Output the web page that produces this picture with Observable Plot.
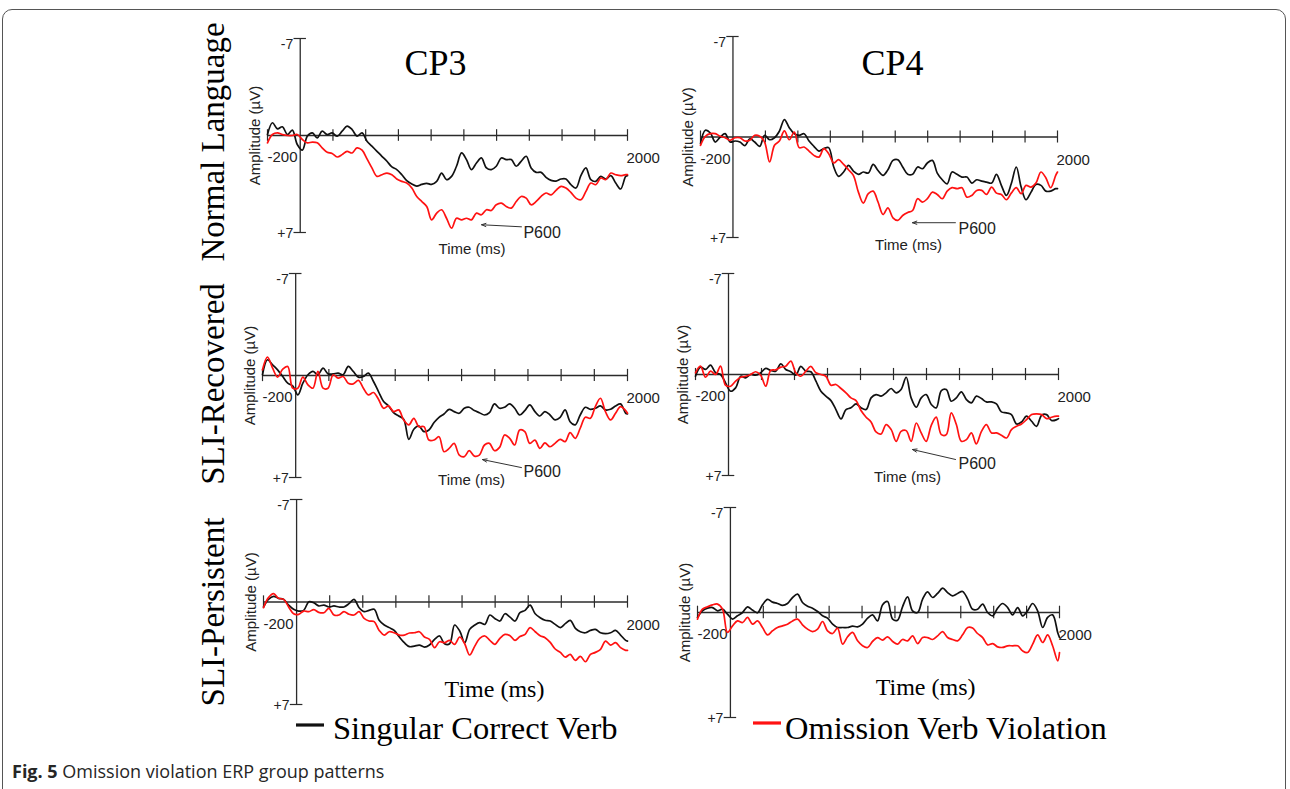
<!DOCTYPE html>
<html>
<head>
<meta charset="utf-8">
<script src="https://cdn.jsdelivr.net/npm/d3@7"></script>
<script src="https://cdn.jsdelivr.net/npm/@observablehq/plot@0.6"></script>
<style>
  html, body { margin: 0; padding: 0; background: #fff; }
  #root { position: relative; width: 1290px; height: 789px; overflow: hidden; background: #fff; }
  .frame { position: absolute; left: 2px; top: 9px; width: 1284px; height: 840px; border: 1.5px solid #555; border-radius: 10px; box-sizing: border-box; }
</style>
</head>
<body>
<div id="root"><div class="frame"></div></div>
<script>
// ---------------- data ----------------
const timeMs = [-200, -170, -139, -109, -78, -48, -18, 13, 43, 74,
  104, 134, 165, 195, 226, 256, 286, 317, 347, 378,
  408, 438, 469, 499, 530, 560, 590, 621, 651, 682,
  712, 742, 773, 803, 834, 864, 894, 925, 955, 986,
  1016, 1046, 1077, 1107, 1138, 1168, 1198, 1229, 1259, 1290,
  1320, 1350, 1381, 1411, 1442, 1472, 1502, 1533, 1563, 1594,
  1624, 1654, 1685, 1715, 1746, 1776, 1806, 1837, 1867, 1898,
  1928, 1958, 1989, 2000];

// Normal Language, CP3 (µV, positive plotted downward)
const nlCp3Correct = [-0.07, -0.92, -0.48, -0.63, -0.07, -0.39, 0.65, 1.06, 0.05, -0.19,
  0.17, -0.31, -0.07, -0.19, 0.05, -0.31, -0.68, -0.43, 0.05, -0.19,
  0.41, 0.77, 1.14, 1.5, 1.86, 2.27, 2.46, 2.83, 3.26, 3.5,
  3.65, 3.53, 3.45, 3.53, 3.31, 2.71, 3.19, 2.95, 2.22, 1.26,
  1.74, 2.46, 1.98, 1.62, 2.34, 2.46, 2.22, 1.62, 1.74, 1.74,
  2.22, 1.86, 1.5, 2.34, 2.66, 2.66, 3.02, 3.24, 3.29, 3.14,
  3.14, 3.55, 3.79, 2.9, 2.34, 3.19, 3.31, 2.95, 3.14, 2.9,
  3.43, 3.86, 2.95, 2.9];
const nlCp3Violation = [0.53, -0.07, -0.19, -0.07, 0, 0, -0.07, 0.29, 0.53, 0.48,
  0.53, 0.89, 1.21, 1.3, 1.55, 1.38, 1.14, 1.26, 0.89, 1.06,
  1.69, 2.34, 2.95, 2.83, 2.71, 2.83, 3.14, 3.31, 3.43, 3.79,
  4.4, 4.76, 5.12, 6.09, 5.6, 5.36, 5.97, 6.69, 5.97, 6.09,
  5.97, 6.09, 5.6, 5.72, 5.36, 5.41, 5.0, 4.88, 5.12, 5.24,
  4.76, 4.4, 4.52, 5.0, 4.76, 4.4, 4.15, 4.28, 3.96, 3.67,
  3.79, 4.11, 4.52, 4.64, 4.03, 3.43, 3.55, 3.07, 3.19, 2.71,
  2.83, 2.9, 2.83, 2.83];

// Normal Language, CP4
const nlCp4Correct = [0.47, -0.47, -0.28, 0.35, 0, -0.23, 0.35, 0.28, 0.35, 0.6,
  0.12, 0.35, 0.65, -0.12, 0.19, 0.05, -0.4, -1.21, -0.65, -0.23,
  -0.12, -0.23, 0.28, 0.65, 0.98, 0.81, 0.74, 2.09, 2.74, 2.44,
  1.98, 2.37, 2.6, 2.44, 2.51, 1.91, 2.33, 2.67, 2.28, 1.63,
  1.58, 2.09, 2.6, 2.6, 2.09, 2.21, 1.81, 1.63, 2.51, 2.98,
  3.26, 2.44, 2.6, 2.79, 2.79, 3.21, 2.98, 3.07, 3.14, 3.21,
  2.6, 3.37, 4.07, 3.26, 2.09, 3.49, 4.37, 3.84, 3.3, 3.37,
  3.77, 3.77, 3.6, 3.6];
const nlCp4Violation = [0.58, -0.05, -0.23, -0.23, -0.05, 0.05, 0.23, 0.05, 0.05, 0.28,
  0.23, -0.12, -0.05, 0.35, 1.74, 0.58, 0.28, -0.42, 0.19, -0.35,
  0.74, 0.7, 0.98, 1.28, 1.4, 0.81, 1.16, 1.81, 1.58, 1.91,
  2.28, 2.67, 3.84, 4.6, 3.95, 3.77, 4.53, 5.4, 4.93, 5.63,
  5.81, 5.47, 5.26, 5.12, 4.3, 4.53, 4.3, 3.84, 4.0, 4.3,
  3.77, 3.53, 3.6, 3.53, 4.19, 4.07, 3.72, 3.72, 4.0, 3.49,
  3.91, 4.0, 4.37, 3.91, 3.53, 3.95, 3.37, 3.49, 3.21, 2.44,
  2.84, 3.53, 2.67, 2.44];

// SLI-Recovered, CP3
const srCp3Correct = [-0.05, -1.08, -0.73, -0.39, 0.07, 0.53, 0.71, 1.33, 0.53, -0.05,
  -0.28, -0.05, -0.5, -0.11, -0.11, -0.16, -0.05, -0.62, -0.28, 0.11,
  0.07, -0.16, 0.41, 1.1, 1.79, 2.09, 2.55, 2.78, 3.0, 4.38,
  3.69, 3.46, 3.85, 3.74, 3.23, 2.87, 2.64, 2.32, 2.48, 2.59,
  2.25, 2.18, 2.41, 2.55, 2.71, 2.55, 1.95, 2.25, 2.18, 1.95,
  2.25, 2.71, 2.41, 2.02, 2.48, 2.78, 2.48, 2.71, 3.05, 2.87,
  2.36, 3.17, 3.39, 2.71, 2.18, 2.32, 2.25, 2.09, 2.36, 2.32,
  2.09, 1.95, 2.59, 2.64];
const srCp3Violation = [-0.39, -1.26, -0.5, 0.11, -0.44, -0.62, 0.87, 0.87, 0.11, 0.64,
  0.87, -0.28, 0.87, 0.87, -0.05, 0.18, 0.07, 0.53, 0.57, 0.34,
  0.87, 1.33, 1.17, 1.63, 2.25, 2.09, 2.48, 2.36, 3.05, 3.39,
  2.94, 3.51, 3.51, 4.43, 4.43, 4.2, 5.23, 5.0, 4.66, 5.46,
  5.57, 5.16, 5.53, 5.46, 4.77, 4.66, 5.16, 4.93, 4.08, 4.31,
  4.77, 3.74, 3.85, 4.66, 4.43, 5.0, 4.63, 4.89, 4.66, 4.38,
  4.54, 3.92, 4.31, 3.62, 2.87, 2.94, 2.13, 1.56, 2.48, 3.05,
  2.59, 2.13, 2.41, 2.59];

// SLI-Recovered, CP4
const srCp4Correct = [0.12, -0.51, -0.35, -0.65, -0.12, 0, 0.58, 1.16, 0.93, 0.12,
  0.23, 0, 0.05, -0.12, -0.42, -0.28, -0.23, -0.74, -0.35, -0.19,
  0.05, -0.56, -0.23, -0.19, 0.46, 1.16, 1.5, 1.81, 2.43, 3.08,
  2.43, 2.31, 2.04, 2.31, 2.43, 1.62, 1.39, 1.5, 1.27, 0.97,
  1.27, 1.04, 0.19, 1.62, 2.27, 1.62, 1.39, 2.08, 2.31, 1.11,
  1.04, 1.85, 1.62, 1.2, 1.74, 1.97, 1.5, 1.67, 1.9, 1.9,
  2.04, 2.59, 2.66, 2.78, 3.43, 3.29, 2.89, 3.24, 3.59, 2.82,
  2.78, 3.19, 3.13, 3.06];
const srCp4Violation = [-0.12, -0.58, 0.19, -0.23, 0, -0.58, 0.74, 0.81, 0.46, 0.19,
  0.12, 0, -0.19, 0.05, 0.81, -0.28, -0.32, -0.51, -0.58, -0.93,
  -0.12, 0.12, -0.23, -0.56, -0.12, 0, 0.12, 0.74, 0.69, 0.97,
  1.27, 1.62, 1.81, 2.5, 2.96, 3.29, 3.98, 4.12, 3.47, 3.82,
  4.63, 3.94, 3.89, 4.63, 3.36, 4.05, 4.63, 3.52, 2.96, 4.17,
  4.17, 2.66, 3.47, 4.63, 4.51, 4.05, 4.81, 3.94, 3.47, 4.05,
  4.05, 4.21, 4.4, 3.82, 3.59, 3.43, 3.13, 2.78, 2.73, 2.78,
  3.06, 2.96, 2.89, 2.89];

// SLI-Persistent, CP3
const spCp3Correct = [0.34, -0.18, -0.39, -0.25, -0.18, 0.21, 0.5, 0.62, 0.57, -0.02,
  0.05, 0.27, 0.21, 0.34, 0.27, 0.34, 0.34, 0.11, -0.18, 0.39,
  0.66, 0.57, 0.5, 1.25, 1.57, 1.75, 1.94, 2.39, 2.78, 3.05,
  3.01, 2.94, 3.08, 2.94, 2.55, 2.32, 2.85, 2.85, 1.57, 1.98,
  2.78, 1.87, 1.57, 1.41, 1.53, 0.89, 1.12, 1.3, 0.8, 1.03,
  1.3, 0.73, 0.57, 0.21, 0.8, 1.07, 1.25, 1.3, 1.53, 1.75,
  1.48, 1.25, 1.8, 2.03, 2.1, 1.94, 1.87, 2.1, 2.16, 2.1,
  1.94, 2.26, 2.62, 2.67];
const spCp3Violation = [0.39, -0.3, -0.57, -0.25, -0.18, 0.34, 0.8, 0.84, 0.62, 0.66,
  0.52, 0.71, 0.73, 0.43, 0.89, 0.89, 0.66, 0.84, 0.89, 0.66,
  1.12, 1.3, 1.34, 1.94, 2.26, 2.03, 2.1, 2.26, 2.26, 2.12,
  2.1, 2.03, 2.39, 2.55, 3.12, 2.71, 2.78, 2.62, 2.89, 2.39,
  2.85, 3.62, 3.01, 2.48, 2.32, 2.62, 2.89, 2.48, 2.21, 2.3,
  2.62, 2.35, 2.21, 1.75, 2.03, 2.3, 2.44, 2.76, 3.21, 3.44,
  3.76, 3.58, 3.99, 3.71, 4.08, 3.58, 3.44, 3.23, 2.67, 2.94,
  2.78, 3.12, 3.3, 3.3];

// SLI-Persistent, CP4
const spCp4Correct = [0.33, -0.11, -0.29, -0.33, -0.11, -0.22, 0.11, 0.44, 0.22, 0,
  -0.38, -0.16, 0.02, -0.51, -0.87, -0.69, -0.6, -0.47, -0.6, -1.0,
  -1.22, -0.67, -0.42, -0.29, -0.07, 0.22, 0.38, 0.78, 1.0, 1.0,
  1.0, 0.91, 0.96, 0.78, 0.38, 0.16, 0.56, -0.51, -0.73, 0.44,
  0.51, -0.38, -1.04, -0.11, 0, -0.89, -1.38, -1.0, -1.27, -1.62,
  -1.33, -1.11, -1.27, -1.4, -0.89, -0.22, -0.22, -0.56, 0, 0.22,
  -0.29, -0.6, -0.33, 0.16, -0.33, 0.22, -0.11, -0.6, -0.11, 1.0,
  0.33, 0.16, 1.33, 1.67];
const spCp4Violation = [0.44, -0.22, -0.38, -0.51, -0.56, -0.22, 1.33, 0.89, 0.56, 0.67,
  0.33, 0.78, 0.56, 1.0, 1.49, 1.22, 1.0, 0.89, 0.78, 0.56,
  0.44, 0.82, 1.11, 1.27, 1.11, 0.6, 1.22, 1.4, 1.04, 2.11,
  1.62, 1.33, 1.89, 2.22, 2.33, 1.93, 1.67, 1.84, 1.62, 1.93,
  2.11, 1.8, 1.89, 1.56, 2.07, 1.67, 1.67, 1.8, 1.56, 1.27,
  1.67, 1.8, 1.89, 1.49, 1.0, 1.04, 1.4, 1.67, 2.16, 2.07,
  2.29, 2.33, 2.22, 2.22, 2.22, 2.56, 2.67, 2.11, 1.49, 2.0,
  1.49, 2.22, 3.22, 2.67];

// axes & labels
const xTickMs = [-200, 200, 400, 600, 800, 1000, 1200, 1400, 1600, 1800, 2000];
const xTickLabels = ["-200", "2000"];
const yTickUv = [-7, 7];
const yTickLabels = ["-7", "+7"];
const rowLabels = ["Normal Language", "SLI-Recovered", "SLI-Persistent"];
const colTitles = ["CP3", "CP4"];
const seriesNames = ["Singular Correct Verb", "Omission Verb Violation"];
const annotationText = "P600";
// P600 annotation anchor points (ms, µV)
const p600Notes = [
  {panel: 0, tx: 1364, ty: 7.0, x1: 1352, y1: 6.59, x2: 1108, y2: 6.44},
  {panel: 1, tx: 1390, ty: 6.39, x1: 1371, y1: 5.97, x2: 1106, y2: 5.97},
  {panel: 2, tx: 1373, ty: 6.61, x1: 1361, y1: 6.32, x2: 1126, y2: 5.77},
  {panel: 3, tx: 1394, ty: 6.17, x1: 1376, y1: 5.89, x2: 1115, y2: 5.2}
];

// ---------------- layout ----------------
const AXIS = "#2b2b2b";
const BLACK = "#111111";
const RED = "#ff1212";
const SANS = "'Liberation Sans', Arial, Helvetica, sans-serif";
const SERIF = "'Liberation Serif', 'Times New Roman', Times, serif";

const panels = [
  {row: 0, col: 0, correct: nlCp3Correct, violation: nlCp3Violation, frame: {l: 267, r: 627, t: 38, b: 232},
   title: {x: 827, y: -4.35}, time: {x: 1050, dy: 17, serif: false}},
  {row: 0, col: 1, correct: nlCp4Correct, violation: nlCp4Violation, frame: {l: 700, r: 1057, t: 36, b: 237},
   title: {x: 983, y: -4.29}, time: {x: 1082, dy: 8, serif: false}},
  {row: 1, col: 0, correct: srCp3Correct, violation: srCp3Violation, frame: {l: 262, r: 627, t: 273, b: 477},
   time: {x: 1060, dy: 3, serif: false}},
  {row: 1, col: 1, correct: srCp4Correct, violation: srCp4Violation, frame: {l: 695, r: 1058, t: 273, b: 475},
   time: {x: 1085, dy: 2, serif: false}},
  {row: 2, col: 0, correct: spCp3Correct, violation: spCp3Violation, frame: {l: 263, r: 627, t: 499, b: 704},
   time: {x: 1196, dy: -15, serif: true}},
  {row: 2, col: 1, correct: spCp4Correct, violation: spCp4Violation, frame: {l: 697, r: 1059, t: 507, b: 717},
   time: {x: 1186, dy: -30, serif: true}}
];

const root = document.getElementById("root");

panels.forEach((p, idx) => {
  const mL = 90, mR = 70, mT = 60, mB = 60;
  const f = p.frame;
  const toRows = (vals) => timeMs.map((t, i) => ({t, v: vals[i]}));
  const marks = [
    Plot.ruleY([0], {stroke: AXIS, strokeWidth: 1.3}),
    Plot.ruleX([0], {stroke: AXIS, strokeWidth: 1.3}),
    Plot.ruleX(xTickMs, {x: d => d, y1: -0.42, y2: 0.42, stroke: AXIS, strokeWidth: 1.2}),
    Plot.ruleY(yTickUv, {y: d => d, x1: -38, x2: 38, stroke: AXIS, strokeWidth: 1.2}),
    Plot.text([yTickLabels[0]], {x: 0, y: yTickUv[0], text: d => d, textAnchor: "end", dx: -7, dy: 6, fontSize: 14, fontFamily: SANS, fill: "#222"}),
    Plot.text([yTickLabels[1]], {x: 0, y: yTickUv[1], text: d => d, textAnchor: "end", dx: -7, dy: 1, fontSize: 14, fontFamily: SANS, fill: "#222"}),
    Plot.text([xTickLabels[0]], {x: xTickMs[0], y: 0, text: d => d, textAnchor: "start", dx: 0, dy: 22, fontSize: 15, fontFamily: SANS, fill: "#222"}),
    Plot.text([xTickLabels[1]], {x: xTickMs[xTickMs.length - 1], y: 0, text: d => d, textAnchor: "start", dx: -1, dy: 23, fontSize: 15, fontFamily: SANS, fill: "#222"}),
    Plot.text(["Amplitude (µV)"], {x: -200, y: 0, text: d => d, rotate: -90, dx: -12, fontSize: 15, fontFamily: SANS, fill: "#222"}),
    Plot.line(toRows(p.correct), {x: "t", y: "v", stroke: BLACK, strokeWidth: 1.7, curve: "catmull-rom"}),
    Plot.line(toRows(p.violation), {x: "t", y: "v", stroke: RED, strokeWidth: 1.7, curve: "catmull-rom"}),
    Plot.text(["Time (ms)"], {x: p.time.x, y: 7, text: d => d, dy: p.time.dy,
      fontSize: p.time.serif ? 24 : 15, fontFamily: p.time.serif ? SERIF : SANS, fill: p.time.serif ? "#000" : "#222"})
  ];
  if (p.title) {
    marks.push(Plot.text([colTitles[p.col]], {x: p.title.x, y: p.title.y, text: d => d, lineAnchor: "bottom",
      fontSize: 36, fontFamily: SERIF, fill: "#000"}));
  }
  const note = p600Notes.find(n => n.panel === idx);
  if (note) {
    marks.push(Plot.arrow([note], {x1: "x1", y1: "y1", x2: "x2", y2: "y2", stroke: "#333", strokeWidth: 1, headLength: 7, headAngle: 40}));
    marks.push(Plot.text([note], {x: "tx", y: "ty", text: () => annotationText, textAnchor: "start", fontSize: 16, fontFamily: SANS, fill: "#222"}));
  }
  const chart = Plot.plot({
    width: f.r - f.l + mL + mR,
    height: f.b - f.t + mT + mB,
    marginLeft: mL, marginRight: mR, marginTop: mT, marginBottom: mB,
    x: {domain: [-200, 2000], axis: null},
    y: {domain: [-7, 7], reverse: true, axis: null},
    style: {overflow: "visible", background: "transparent", fontFamily: SANS},
    marks
  });
  chart.style.position = "absolute";
  chart.style.left = (f.l - mL) + "px";
  chart.style.top = (f.t - mT) + "px";
  chart.style.maxWidth = "none";
  root.appendChild(chart);
});

// ---------------- row labels, legend, caption ----------------
const overlay = d3.select(root).append("svg")
  .attr("width", 1290).attr("height", 789)
  .style("position", "absolute").style("left", "0px").style("top", "0px")
  .style("pointer-events", "none");

const rowCenters = [142, 384, 612];
rowLabels.forEach((label, i) => {
  overlay.append("text")
    .attr("transform", `translate(224,${rowCenters[i]}) rotate(-90)`)
    .attr("text-anchor", "middle")
    .style("font-family", SERIF).style("font-size", "33px").style("fill", "#000")
    .text(label);
});

const legendItems = [
  {name: seriesNames[0], color: BLACK, x0: 296, x1: 324, y: 725, tx: 333},
  {name: seriesNames[1], color: RED, x0: 753, x1: 781, y: 723, tx: 785}
];
legendItems.forEach(it => {
  overlay.append("line").attr("x1", it.x0).attr("x2", it.x1).attr("y1", it.y).attr("y2", it.y)
    .attr("stroke", it.color).attr("stroke-width", 3.2);
  overlay.append("text").attr("x", it.tx).attr("y", 739)
    .style("font-family", SERIF).style("font-size", "32.5px").style("fill", "#000")
    .text(it.name);
});

const cap = overlay.append("text").attr("x", 12).attr("y", 778)
  .style("font-family", "'Open Sans', 'Noto Sans', sans-serif").style("font-size", "18px").style("fill", "#262626");
cap.append("tspan").style("font-weight", "700").text("Fig. 5");
cap.append("tspan").text(" Omission violation ERP group patterns");
</script>
</body>
</html>
